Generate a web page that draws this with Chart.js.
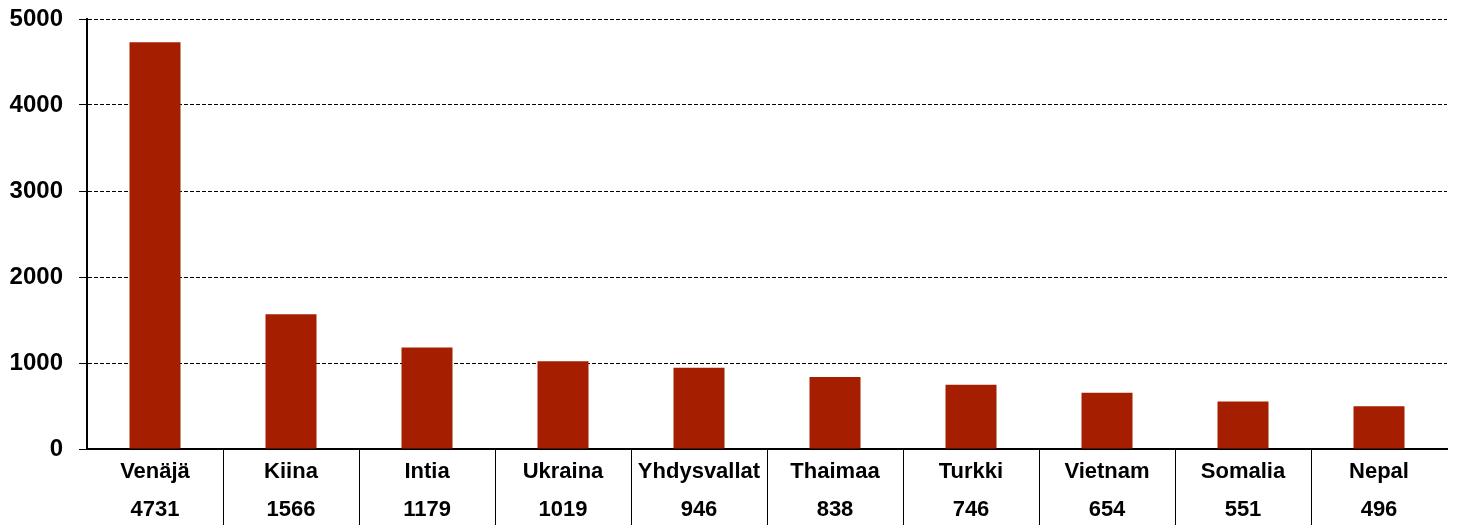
<!DOCTYPE html>
<html>
<head>
<meta charset="utf-8">
<script src="https://cdn.jsdelivr.net/npm/chart.js@4/dist/chart.umd.min.js"></script>
<style>
  html, body { margin: 0; padding: 0; background: #fff; }
  #wrap { width: 1457px; height: 525px; }
</style>
</head>
<body>
<div id="wrap"><canvas id="grafico"></canvas></div>
<script>
// maat ja lukumäärät
const maat = ["Venäjä", "Kiina", "Intia", "Ukraina", "Yhdysvallat", "Thaimaa", "Turkki", "Vietnam", "Somalia", "Nepal"];
const arvot = [4731, 1566, 1179, 1019, 946, 838, 746, 654, 551, 496];
const yTicks = [0, 1000, 2000, 3000, 4000, 5000];

const fontti = { family: "'Liberation Sans', Arial, sans-serif", size: 22, weight: 'bold' };

// kaksirivinen otsikko: nimi + arvo
const otsikot = maat.map((m, i) => [m, String(arvot[i])]);

const graph = document.getElementById('grafico');
new Chart(graph, {
  type: 'bar',
  data: {
    labels: otsikot,
    datasets: [{
      data: arvot,
      backgroundColor: '#a61e00',
      borderWidth: 0,
      barPercentage: 0.375,
      categoryPercentage: 1
    }]
  },
  options: {
    responsive: true,
    maintainAspectRatio: false,
    animation: false,
    layout: { padding: { top: 19, right: 10, left: 0, bottom: 0 } },
    plugins: { legend: { display: false }, tooltip: { enabled: false } },
    scales: {
      x: {
        offset: true,
        grid: {
          offset: true,
          drawOnChartArea: false,
          drawTicks: true,
          tickLength: 76,
          tickWidth: 1,
          tickColor: ctx => (ctx.type === 'tick' && ctx.index > 0) ? '#000' : 'rgba(0,0,0,0)'
        },
        border: { display: true, color: '#000', width: 2 },
        ticks: {
          color: '#000',
          font: Object.assign({}, fontti, { lineHeight: 38 / 22 }),
          padding: -72,
          autoSkip: false,
          maxRotation: 0,
          minRotation: 0
        },
        afterFit: s => { s.height = 76; s.paddingLeft = 0; s.paddingRight = 0; }
      },
      y: {
        min: 0,
        max: 5000,
        afterBuildTicks: s => { s.ticks = yTicks.map(v => ({ value: v })); },
        grid: {
          color: '#000',
          lineWidth: 1,
          tickLength: 8,
          tickColor: '#000'
        },
        border: { display: true, color: '#000', width: 2, dash: [4, 2] },
        ticks: {
          color: '#000',
          font: Object.assign({}, fontti, { size: 24 }),
          padding: 16,
          callback: v => String(v)
        },
        afterFit: s => { s.width = 87; s.paddingTop = 0; s.paddingBottom = 0; }
      }
    }
  }
});
</script>
</body>
</html>
